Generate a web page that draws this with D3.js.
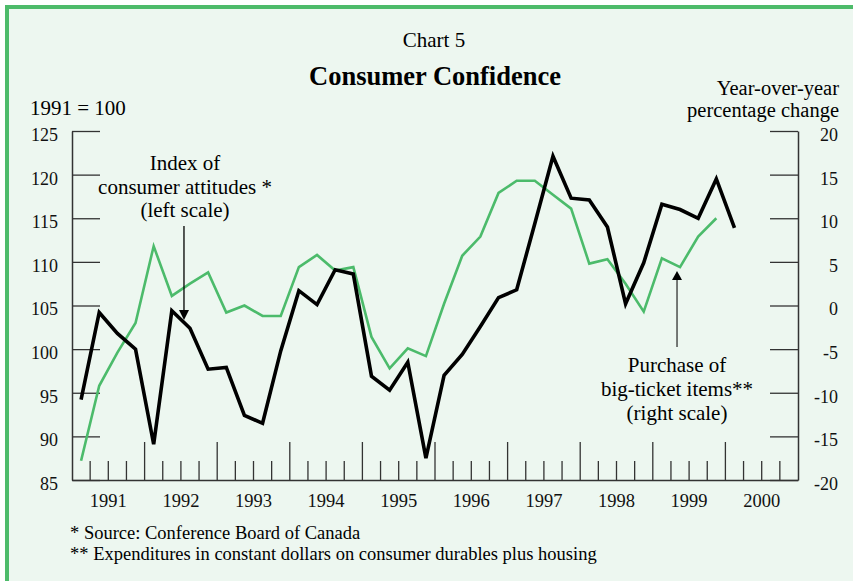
<!DOCTYPE html>
<html>
<head>
<meta charset="utf-8">
<script src="https://cdn.jsdelivr.net/npm/d3@7"></script>
<style>
  body { margin: 0; background: #fff; }
</style>
</head>
<body>
<svg id="chart" width="853" height="581" font-family="'Liberation Serif', 'Times New Roman', serif"></svg>
<script>
// quarterly data, 1991Q1 .. 2000Q4
const years = ["1991","1992","1993","1994","1995","1996","1997","1998","1999","2000"];
const quarters = [];
years.forEach(y => ["Q1","Q2","Q3","Q4"].forEach(q => quarters.push(y + q)));

// index of consumer attitudes (left scale, 1991 = 100)
const indexAttitudes = [94.2, 104.2, 101.8, 100.0, 89.1, 104.4, 102.4, 97.7,
                        97.9, 92.4, 91.5, 99.8, 106.7, 105.1, 109.1, 108.6,
                        96.9, 95.3, 98.5, 87.5, 97.0, 99.4, 102.6, 105.9,
                        106.8, 114.4, 122.1, 117.3, 117.1, 114.0, 105.2, 109.9,
                        116.6, 116.0, 115.0, 119.5, 113.9];
// purchase of big-ticket items (right scale, y/y % change)
const bigTicket = [-17.8, -9.2, -5.4, -2.0, 6.8, 1.1, 2.5, 3.8,
                   -0.8, 0.0, -1.2, -1.2, 4.4, 5.8, 4.0, 4.4,
                   -3.6, -7.2, -4.9, -5.8, 0.2, 5.7, 7.9, 12.9,
                   14.3, 14.3, 12.7, 11.1, 4.8, 5.3, 2.5, -0.7,
                   5.4, 4.4, 7.9, 10.0];

const leftTicks = [85, 90, 95, 100, 105, 110, 115, 120, 125];
const rightTicks = [-20, -15, -10, -5, 0, 5, 10, 15, 20];

const serif = "'Liberation Serif', 'Times New Roman', serif";
const svg = d3.select("#chart");

// panel with green frame (left and top edges visible)
svg.append("rect").attr("x", 7).attr("y", 7).attr("width", 860).attr("height", 590)
   .attr("fill", "#edf7f0").attr("stroke", "#4dbb6a").attr("stroke-width", 4);

let plotL = 72, plotR = 798, plotT = 131, plotB = 480;

let x = d3.scaleBand().domain(quarters).range([plotL, plotR]);
let yL = d3.scaleLinear().domain([85, 125]).range([plotB, plotT]);
let yR = d3.scaleLinear().domain([-20, 20]).range([plotB, plotT]);
let cx = q => x(q) + x.bandwidth() / 2;

// titles
svg.append("text").attr("x", 434).attr("y", 47).attr("text-anchor", "middle")
   .attr("font-size", "21px").text("Chart 5");
svg.append("text").attr("x", 435).attr("y", 85).attr("text-anchor", "middle")
   .attr("font-size", "26.5px").attr("font-weight", "bold").text("Consumer Confidence");
svg.append("text").attr("x", 30).attr("y", 115).attr("font-size", "21px").text("1991 = 100");
svg.append("text").attr("x", 839).attr("y", 94.5).attr("text-anchor", "end")
   .attr("font-size", "20.5px").text("Year-over-year");
svg.append("text").attr("x", 839).attr("y", 117).attr("text-anchor", "end")
   .attr("font-size", "20.5px").text("percentage change");

// left axis
let gL = svg.append("g").attr("transform", "translate(" + plotL + ",0)")
   .call(d3.axisLeft(yL).tickValues(leftTicks).tickFormat(d => String(d))
         .tickSizeInner(-28).tickSizeOuter(0).tickPadding(14));
// right axis
let gR = svg.append("g").attr("transform", "translate(" + plotR + ",0)")
   .call(d3.axisRight(yR).tickValues(rightTicks).tickFormat(d => String(d))
         .tickSizeInner(-28).tickSizeOuter(0).tickPadding(40));
gR.selectAll("text").attr("text-anchor", "end");

[gL, gR].forEach(g => {
    g.attr("font-family", serif).attr("font-size", 18);
    g.selectAll("text").attr("fill", "#111").attr("dy", "0.52em");
    g.selectAll("line").attr("stroke", "#333").attr("stroke-width", 1.3);
    g.select(".domain").attr("stroke", "#333").attr("stroke-width", 1.5);
});

// bottom axis: quarter ticks (long at year boundaries)
let gB = svg.append("g").attr("transform", "translate(0," + plotB + ")")
   .call(d3.axisBottom(x).tickSizeOuter(0).tickFormat(""));
gB.select(".domain").attr("stroke", "#333").attr("stroke-width", 1.5);
gB.selectAll(".tick")
   .attr("transform", d => "translate(" + x(d) + ",0)")
   .filter(d => d === quarters[0]).remove();
gB.selectAll(".tick line")
   .attr("y2", d => d.endsWith("Q1") ? -38 : -19)
   .attr("stroke", "#333").attr("stroke-width", 1.3);

// year labels
let xYear = d3.scaleBand().domain(years).range([plotL, plotR]);
let gY = svg.append("g").attr("transform", "translate(0," + plotB + ")")
   .call(d3.axisBottom(xYear).tickSize(0).tickPadding(14));
gY.attr("font-family", serif).attr("font-size", 18.5);
gY.select(".domain").remove();
gY.selectAll("text").attr("fill", "#111");

// lines
svg.append("path")
   .datum(bigTicket)
   .attr("fill", "none").attr("stroke", "#4cbb6b").attr("stroke-width", 2.6)
   .attr("stroke-linejoin", "miter")
   .attr("d", d3.line().x((d, i) => cx(quarters[i])).y(d => yR(d)));

svg.append("path")
   .datum(indexAttitudes)
   .attr("fill", "none").attr("stroke", "#000").attr("stroke-width", 3.6)
   .attr("stroke-linejoin", "miter")
   .attr("d", d3.line().x((d, i) => cx(quarters[i])).y(d => yL(d)));

// annotations
let noteL = ["Index of", "consumer attitudes *", "(left scale)"];
svg.append("g").selectAll("text").data(noteL).enter().append("text")
   .attr("x", 185).attr("y", (d, i) => 170 + i * 23.5)
   .attr("text-anchor", "middle").attr("font-size", "21px").text(d => d);

let ax1 = cx("1992Q3") - 6;
svg.append("line").attr("x1", ax1).attr("x2", ax1).attr("y1", 226).attr("y2", 311)
   .attr("stroke", "#000").attr("stroke-width", 1.3);
svg.append("path").attr("d", "M" + (ax1 - 5) + ",310 L" + (ax1 + 5) + ",310 L" + ax1 + ",320 Z")
   .attr("fill", "#000");

let noteR = ["Purchase of", "big-ticket items**", "(right scale)"];
svg.append("g").selectAll("text").data(noteR).enter().append("text")
   .attr("x", 677).attr("y", (d, i) => 372 + i * 24)
   .attr("text-anchor", "middle").attr("font-size", "21px").text(d => d);

let ax2 = cx("1999Q2") - 3;
svg.append("line").attr("x1", ax2).attr("x2", ax2).attr("y1", 347).attr("y2", 280)
   .attr("stroke", "#333").attr("stroke-width", 1.3);
svg.append("path").attr("d", "M" + (ax2 - 5) + ",280 L" + (ax2 + 5) + ",280 L" + ax2 + ",271 Z")
   .attr("fill", "#000");

// footnotes
svg.append("text").attr("x", 70).attr("y", 539).attr("font-size", "18.5px")
   .text("*  Source: Conference Board of Canada");
svg.append("text").attr("x", 70).attr("y", 560).attr("font-size", "18.5px")
   .text("** Expenditures in constant dollars on consumer durables plus housing");
</script>
</body>
</html>
